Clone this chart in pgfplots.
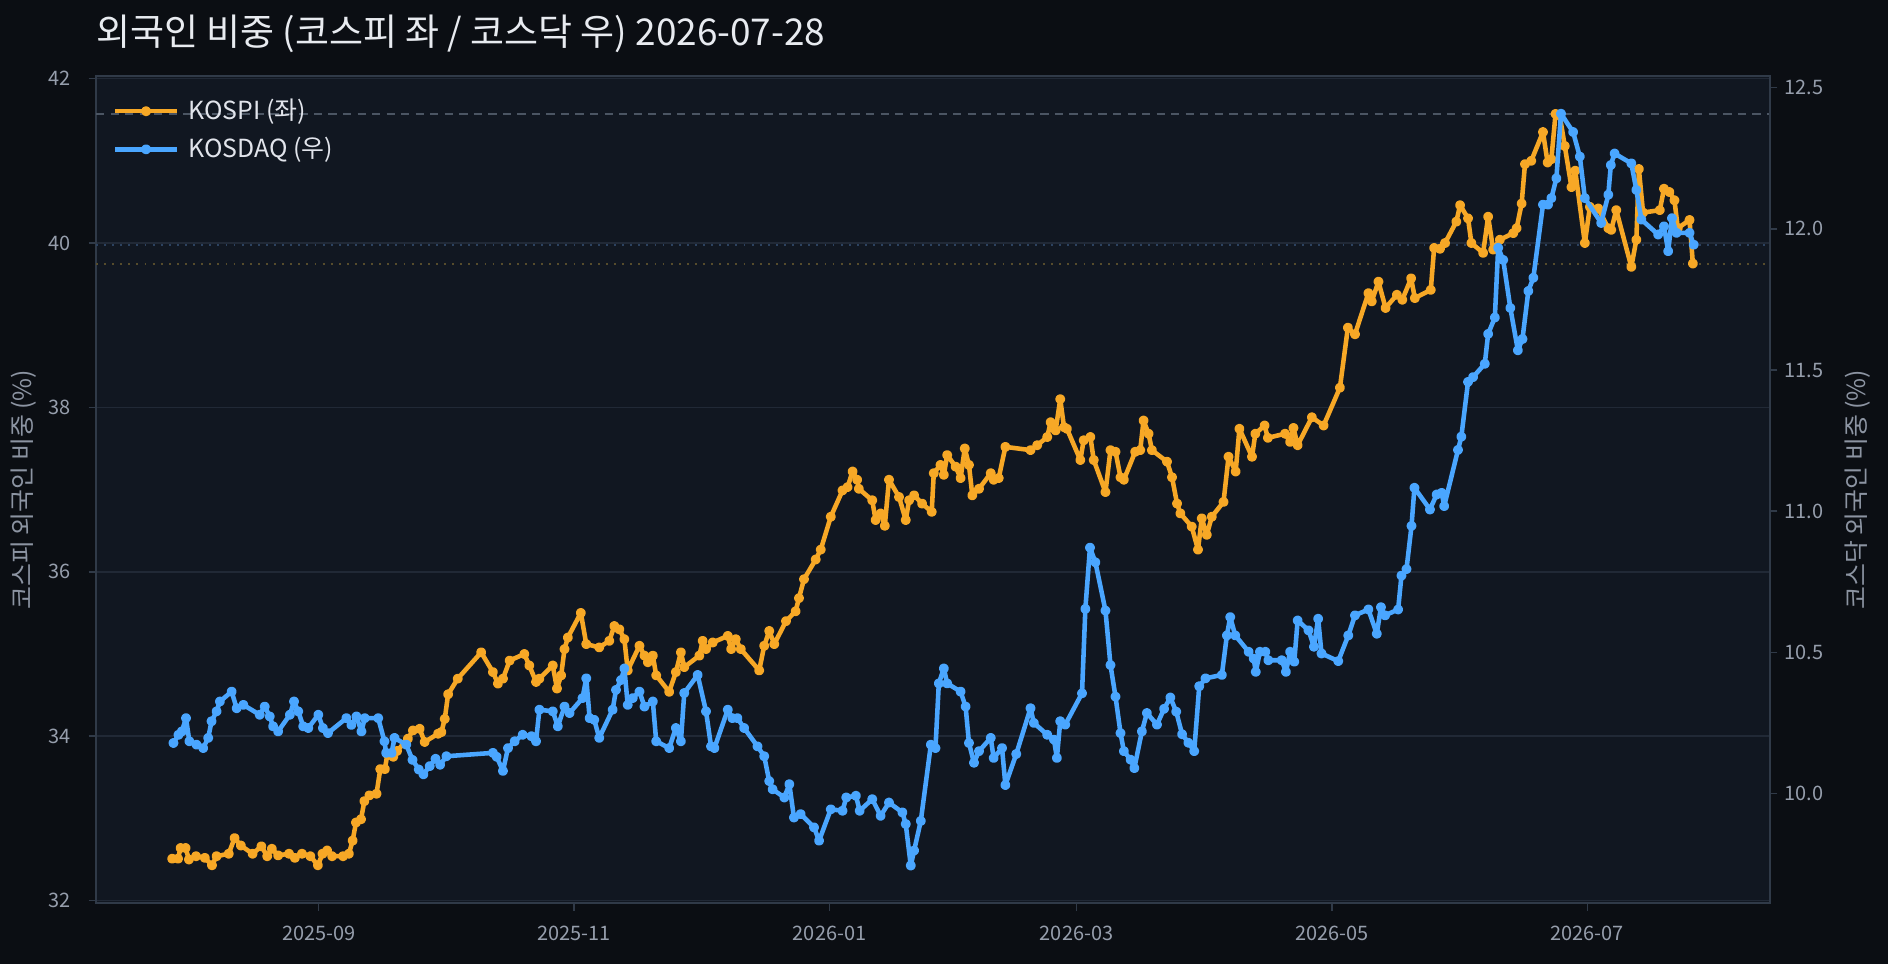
\documentclass[border=0pt]{standalone}
\usepackage{fontspec}
\setmainfont{Noto Sans CJK KR}
\usepackage{pgfplots}
\pgfplotsset{compat=1.18}
\definecolor{outerbg}{RGB}{11,14,19}
\definecolor{plotbg}{RGB}{17,23,33}
\definecolor{spine}{RGB}{48,58,72}
\definecolor{gridc}{RGB}{33,41,54}
\definecolor{tickc}{RGB}{150,158,172}
\definecolor{labc}{RGB}{140,148,162}
\definecolor{titlec}{RGB}{232,235,240}
\definecolor{legc}{RGB}{225,228,235}
\definecolor{kospi}{RGB}{247,168,38}
\definecolor{kosdaq}{RGB}{74,166,255}
\definecolor{refgray}{RGB}{75,85,99}
\definecolor{refblue}{RGB}{44,66,96}
\definecolor{reforange}{RGB}{86,76,44}
\pgfplotsset{
  common/.style={
    scale only axis, width=806.5pt, height=398.4pt,
    xmin=-18.2, xmax=381.6,
    tick align=outside, major tick length=3.6pt,
    tick style={draw=spine, line width=0.7pt},
    ticklabel style={font=\fontsize{9.6}{11}\selectfont, text=tickc},
    /pgf/number format/assume math mode=true,
  },
  lin/.style={line width=2.2pt, line join=round, mark=*, mark size=1.3pt, mark options={solid, draw=none, fill=#1}, color=#1},
}
\begin{document}
\begin{tikzpicture}
\useasboundingbox (-46.25pt,-29.39pt) rectangle (863.4pt,435.1pt);
\fill[outerbg] (-46.25pt,-29.39pt) rectangle (863.4pt,435.1pt);
\begin{axis}[common,
  ymin=31.97, ymax=42.03,
  axis background/.style={fill=plotbg},
  axis line style={draw=spine, line width=0.8pt},
  xtick={35,96,157,216,277,338},
  xticklabels={2025-09,2025-11,2026-01,2026-03,2026-05,2026-07},
  ytick={32,34,36,38,40,42},
  xtick pos=left, ytick pos=left,
  xticklabel style={yshift=-4pt},
  yticklabel style={/pgf/number format/fixed, /pgf/number format/precision=0, xshift=-5pt},
  ymajorgrids, grid style={draw=gridc, line width=0.7pt},
  legend style={at={(0.006,0.985)}, anchor=north west, draw=none, fill=none,
    text=legc, font=\fontsize{12}{14}\selectfont, row sep=3pt, inner sep=3pt,
    nodes={inner xsep=4.5pt}},
  legend cell align=left,
  legend image code/.code={\draw[mark repeat=2,mark phase=2,#1] plot coordinates {(0pt,0pt) (15pt,0pt) (30pt,0pt)};},
]
\addplot[forget plot, refgray, line width=0.8pt, dash pattern=on 4pt off 3pt] coordinates {(-18.2,41.57) (381.6,41.57)};
\addplot[forget plot, refblue, line width=1pt, dash pattern=on 0.9pt off 3pt] coordinates {(-18.2,39.98) (381.6,39.98)};
\addplot[forget plot, reforange, line width=1pt, dash pattern=on 0.9pt off 3pt] coordinates {(-18.2,39.75) (381.6,39.75)};
\addplot[lin=kospi] coordinates {
(0.0,32.51) (1.4,32.51) (2.0,32.64) (3.2,32.64) (4.0,32.50) (5.7,32.54) (7.8,32.52) (9.5,32.43) (10.6,32.54) (13.5,32.57)
(14.9,32.76) (16.4,32.67) (19.2,32.57) (21.3,32.66) (22.7,32.54) (23.8,32.63) (25.3,32.55) (27.9,32.57) (29.3,32.52) (31.0,32.57)
(33.0,32.54) (34.8,32.43) (35.9,32.57) (37.0,32.61) (38.2,32.54) (40.8,32.54) (42.2,32.57) (43.1,32.73) (43.9,32.95) (45.1,32.99)
(45.9,33.21) (47.1,33.28) (48.8,33.30) (49.7,33.60) (50.8,33.60) (51.4,33.78) (52.8,33.75) (53.7,33.82) (56.3,33.97) (57.5,34.07)
(59.1,34.09) (60.3,33.93) (63.5,34.03) (64.3,34.05) (65.1,34.21) (65.9,34.51) (68.2,34.70) (73.8,35.02) (76.6,34.78) (77.8,34.64)
(79.0,34.70) (80.6,34.92) (84.1,35.00) (85.3,34.86) (86.9,34.66) (87.7,34.70) (90.9,34.86) (91.9,34.58) (92.9,34.74) (93.7,35.06)
(94.5,35.20) (97.6,35.50) (98.9,35.12) (102.0,35.08) (104.4,35.16) (105.6,35.34) (106.8,35.30) (108.0,35.18) (108.8,34.80) (111.6,35.10)
(112.8,34.98) (113.6,34.90) (114.8,34.98) (115.6,34.74) (118.7,34.54) (120.3,34.78) (121.5,35.02) (122.3,34.84) (125.9,34.98) (126.7,35.16)
(127.5,35.06) (129.1,35.14) (132.7,35.22) (133.5,35.06) (134.6,35.18) (135.8,35.06) (140.2,34.80) (141.4,35.10) (142.6,35.28) (143.8,35.12)
(146.6,35.40) (148.9,35.52) (149.7,35.68) (150.9,35.91) (153.7,36.15) (154.9,36.27) (157.3,36.67) (160.1,36.99) (161.3,37.03) (162.5,37.22)
(163.6,37.12) (164.0,37.01) (167.2,36.87) (168.0,36.63) (169.2,36.71) (170.2,36.56) (171.2,37.12) (173.6,36.91) (175.2,36.63) (176.0,36.87)
(177.2,36.93) (179.1,36.83) (181.4,36.73) (181.9,37.20) (183.5,37.30) (184.3,37.18) (185.1,37.42) (187.1,37.28) (188.3,37.14) (189.3,37.50)
(190.3,37.30) (191.1,36.93) (192.7,37.01) (195.5,37.20) (196.2,37.12) (197.4,37.14) (199.0,37.52) (205.0,37.48) (206.6,37.54) (209.0,37.64)
(209.8,37.82) (211.0,37.72) (212.1,38.10) (213.0,37.76) (213.7,37.74) (216.9,37.36) (217.7,37.60) (219.3,37.64) (220.1,37.36) (222.9,36.97)
(224.1,37.48) (225.3,37.46) (226.5,37.15) (227.3,37.12) (230.0,37.46) (231.2,37.48) (232.0,37.84) (233.2,37.68) (234.0,37.48) (237.6,37.34)
(238.8,37.15) (240.0,36.83) (240.8,36.71) (243.5,36.55) (245.0,36.27) (245.9,36.65) (247.1,36.45) (248.3,36.67) (251.1,36.85) (252.3,37.40)
(254.0,37.22) (254.9,37.74) (257.9,37.40) (258.7,37.68) (260.9,37.78) (261.7,37.63) (265.8,37.68) (267.0,37.58) (267.8,37.75) (268.8,37.54)
(272.2,37.88) (275.0,37.78) (278.9,38.24) (280.8,38.97) (282.5,38.89) (285.7,39.39) (286.5,39.29) (288.1,39.53) (289.8,39.21) (292.5,39.37)
(293.8,39.31) (295.9,39.57) (296.8,39.33) (300.6,39.43) (301.4,39.94) (302.8,39.93) (304.0,40.00) (306.7,40.26) (307.6,40.46) (309.5,40.30)
(310.3,40.00) (313.1,39.88) (314.3,40.32) (315.5,39.92) (317.1,40.04) (320.3,40.12) (321.1,40.18) (322.3,40.48) (323.1,40.96) (324.6,41.00)
(327.4,41.35) (328.5,40.98) (329.4,41.02) (330.4,41.57) (331.4,41.55) (332.6,41.18) (334.2,40.68) (335.1,40.88) (337.4,40.00) (338.6,40.44)
(340.6,40.42) (343.0,40.18) (343.7,40.16) (344.9,40.40) (348.5,39.71) (349.7,40.04) (350.3,40.90) (351.3,40.37) (355.3,40.40) (356.3,40.66)
(357.6,40.62) (358.8,40.52) (359.6,40.18) (362.4,40.28) (363.2,39.75)
};
\addlegendentry{KOSPI (좌)}
\addlegendimage{lin=kosdaq}
\addlegendentry{KOSDAQ (우)}
\end{axis}
\begin{axis}[common,
  ymin=9.612, ymax=12.541,
  axis x line=none, axis y line*=right,
  axis line style={draw=spine, line width=0.8pt},
  ytick={10,10.5,11,11.5,12,12.5},
  yticklabel style={/pgf/number format/fixed, /pgf/number format/fixed zerofill, /pgf/number format/precision=1},
]
\addplot[lin=kosdaq] coordinates {
(0.3,10.179) (1.5,10.208) (2.3,10.220) (3.3,10.267) (4.1,10.185) (5.8,10.173) (7.4,10.161) (8.6,10.197) (9.4,10.256) (10.6,10.291)
(11.4,10.326) (14.2,10.361) (15.4,10.302) (17.0,10.314) (20.9,10.279) (22.1,10.308) (23.3,10.273) (24.1,10.238) (25.3,10.220) (28.1,10.279)
(29.1,10.326) (30.1,10.291) (31.3,10.238) (32.5,10.232) (34.9,10.279) (36.0,10.232) (37.2,10.214) (41.6,10.267) (42.8,10.243) (44.0,10.273)
(45.2,10.220) (46.0,10.267) (49.2,10.267) (50.7,10.185) (51.1,10.144) (52.4,10.144) (53.1,10.197) (55.9,10.173) (57.4,10.119) (58.9,10.085)
(60.0,10.068) (61.5,10.097) (62.9,10.123) (64.0,10.102) (65.5,10.132) (76.6,10.144) (77.5,10.130) (79.0,10.080) (80.2,10.161) (81.8,10.185)
(83.7,10.208) (85.8,10.203) (86.9,10.185) (87.7,10.297) (90.9,10.291) (92.1,10.238) (93.7,10.308) (94.9,10.285) (98.0,10.338) (98.9,10.408)
(99.7,10.267) (100.8,10.261) (102.0,10.197) (105.2,10.297) (106.0,10.367) (107.2,10.402) (108.0,10.443) (108.8,10.314) (110.0,10.338) (111.6,10.361)
(112.8,10.308) (114.8,10.326) (115.6,10.185) (118.7,10.161) (120.3,10.232) (121.5,10.185) (122.3,10.356) (125.5,10.420) (127.5,10.291) (128.7,10.167)
(129.5,10.161) (132.7,10.297) (133.8,10.267) (135.0,10.267) (136.6,10.232) (139.8,10.167) (141.4,10.132) (142.6,10.044) (143.4,10.015) (146.2,9.986)
(147.4,10.033) (148.5,9.915) (150.1,9.927) (153.3,9.880) (154.5,9.833) (157.3,9.944) (160.1,9.939) (161.0,9.986) (163.3,9.992) (164.2,9.939)
(167.2,9.980) (169.2,9.921) (171.2,9.968) (174.4,9.933) (175.2,9.892) (176.4,9.745) (177.2,9.798) (178.8,9.903) (181.2,10.173) (182.3,10.161)
(183.1,10.390) (184.3,10.443) (185.1,10.390) (188.3,10.361) (189.5,10.308) (190.3,10.179) (191.5,10.109) (192.7,10.150) (195.5,10.197) (196.2,10.126)
(198.2,10.161) (199.0,10.030) (201.6,10.140) (205.0,10.302) (205.8,10.250) (209.0,10.208) (210.6,10.191) (211.3,10.126) (212.1,10.256) (213.3,10.244)
(217.3,10.355) (218.1,10.654) (219.2,10.871) (220.5,10.819) (222.9,10.648) (224.1,10.455) (225.3,10.343) (226.5,10.214) (227.3,10.150) (228.9,10.120)
(229.8,10.090) (231.6,10.220) (232.8,10.285) (235.2,10.244) (236.9,10.300) (238.4,10.340) (239.8,10.290) (241.2,10.210) (242.7,10.180) (244.1,10.150)
(245.3,10.380) (246.8,10.408) (250.7,10.420) (251.9,10.560) (252.7,10.625) (253.9,10.560) (257.1,10.502) (258.3,10.478) (258.8,10.431) (259.8,10.502)
(261.1,10.502) (261.8,10.472) (265.0,10.472) (266.0,10.431) (267.0,10.502) (268.0,10.467) (268.8,10.613) (271.4,10.578) (272.7,10.520) (273.7,10.619)
(274.5,10.496) (278.5,10.469) (280.9,10.560) (282.5,10.631) (285.7,10.652) (287.7,10.566) (288.7,10.660) (289.7,10.631) (292.8,10.652) (293.6,10.772)
(294.8,10.795) (296.0,10.948) (296.7,11.083) (300.4,11.006) (302.0,11.059) (303.2,11.065) (303.8,11.018) (307.1,11.217) (307.9,11.264) (309.5,11.458)
(310.7,11.475) (313.5,11.522) (314.3,11.628) (315.9,11.686) (316.7,11.933) (317.9,11.890) (319.6,11.720) (321.4,11.570) (322.5,11.610) (323.9,11.780)
(325.1,11.827) (327.4,12.086) (328.6,12.086) (329.4,12.109) (330.6,12.179) (331.7,12.408) (334.6,12.343) (336.2,12.256) (337.4,12.109) (341.3,12.021)
(343.0,12.121) (343.6,12.226) (344.5,12.267) (348.5,12.232) (349.7,12.138) (350.9,12.033) (354.9,11.980) (356.3,12.009) (357.3,11.921) (358.2,12.038)
(359.3,11.986) (362.4,11.986) (363.4,11.944)
};
\end{axis}
\node[anchor=west, inner sep=0pt, text=titlec, font=\fontsize{17.8}{20}\selectfont] at (0pt,418.7pt) {외국인 비중 (코스피 좌 / 코스닥 우) 2026-07-28};
\node[rotate=90, inner sep=0pt, text=labc, font=\fontsize{12}{14}\selectfont] at (-34.8pt,199.2pt) {코스피 외국인 비중 (\%)};
\node[rotate=90, inner sep=0pt, text=labc, font=\fontsize{12}{14}\selectfont] at (848.9pt,199.2pt) {코스닥 외국인 비중 (\%)};
\end{tikzpicture}
\end{document}
